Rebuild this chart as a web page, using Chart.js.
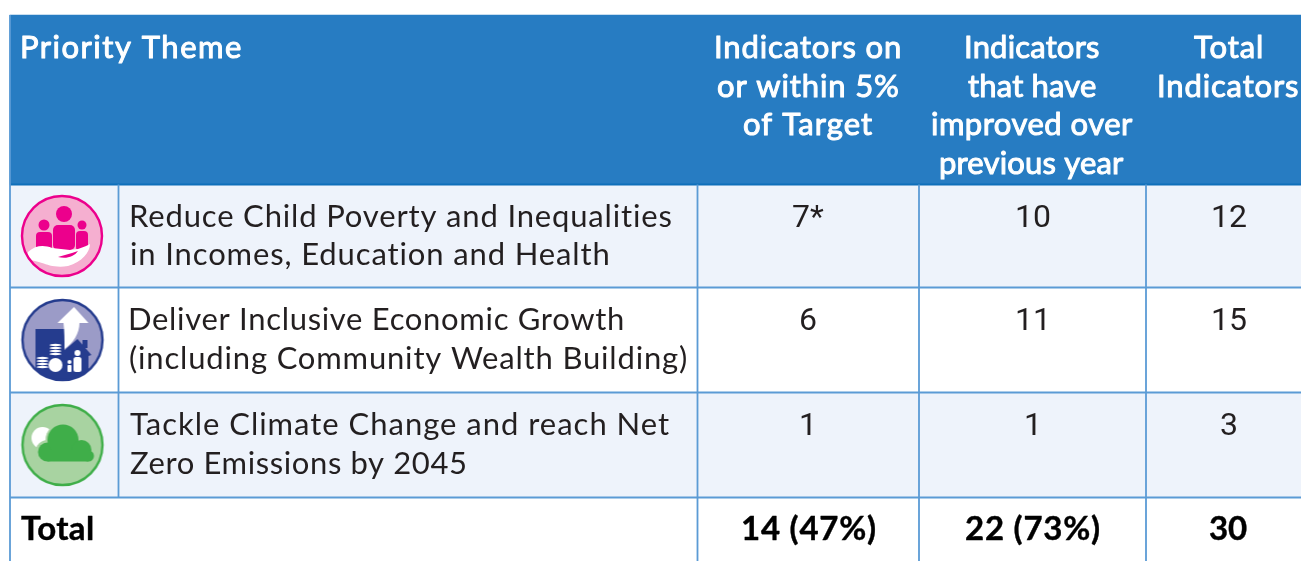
<!DOCTYPE html>
<html>
<head>
<meta charset="utf-8">
<title>Priority Theme indicators</title>
<style>
  html, body { margin: 0; padding: 0; background: #fff; overflow: hidden; }
  canvas { display: block; }
</style>
<script src="https://cdn.jsdelivr.net/npm/chart.js@4/dist/chart.umd.min.js"></script>
</head>
<body>
<canvas id="table_chart" width="1301" height="561"></canvas>
<script>
// table content
var themes = [
  ['Reduce Child Poverty and Inequalities', 'in Incomes, Education and Health'],
  ['Deliver Inclusive Economic Growth', '(including Community Wealth Building)'],
  ['Tackle Climate Change and reach Net', 'Zero Emissions by 2045']
];
var headerFirst = 'Priority Theme';
var headers = [
  ['Indicators on', 'or within 5%', 'of Target'],
  ['Indicators', 'that have', 'improved over', 'previous year'],
  ['Total', 'Indicators']
];
var onTarget = ['7*', '6', '1'];
var improved = ['10', '11', '1'];
var totalIndicators = ['12', '15', '3'];
var totalLabel = 'Total';
var totalRow = ['14 (47%)', '22 (73%)', '30'];

// table layout, in the units of the two axes
var columnEdges = [10, 118.5, 697.5, 919, 1146];
var rowEdges = [15, 184.5, 287.5, 392.5, 497.5, 561];
var rowFills = ['#277cc2', '#eef3fb', '#ffffff', '#eef3fb', '#ffffff'];
var columnCentres = [808, 1033, 1229];
var rowBaselines = [227, 330, 435];
var rowSecondBaselines = [265, 369, 474];
var headerBaselines = [58, 97, 135, 174];
var totalBaseline = 540;
var iconCentres = [{x: 62, y: 236}, {x: 62.5, y: 340}, {x: 62.5, y: 445}];

// left and right ends of each line of text, the font is not the original one
var headerFirstSpan = [22, 241];
var headerSpans = [
  [[716, 900], [718, 898], [744, 872]],
  [[966, 1099], [968, 1096], [932, 1133], [941, 1124]],
  [[1194, 1262], [1159, 1298]]
];
var themeSpans = [
  [[131, 672], [131, 609]],
  [[130, 623], [130, 686]],
  [[130, 669], [130, 465]]
];
var totalLabelSpan = [21, 93];
var totalSpans = [[743, 875], [966, 1099], [1210, 1247]];

var lineBlue = '#5b9bd5';
var textDark = '#231f20';
var bodyFont = 'Lato';

function disc(c, x, y, r) {
  c.beginPath();
  c.arc(x, y, r, 0, Math.PI * 2);
  c.fill();
}

function roundBox(c, x, y, w, h, r) {
  c.beginPath();
  c.roundRect(x, y, w, h, r);
  c.fill();
}

function iconBase(fill, ring) {
  var cv = document.createElement('canvas');
  cv.width = 88;
  cv.height = 88;
  var c = cv.getContext('2d');
  c.translate(44, 44);
  c.fillStyle = fill;
  disc(c, 0, 0, 40);
  return {cv: cv, c: c, ring: ring};
}

function finishIcon(ic) {
  ic.c.restore();
  ic.c.strokeStyle = ic.ring;
  ic.c.lineWidth = 2.4;
  ic.c.beginPath();
  ic.c.arc(0, 0, 40, 0, Math.PI * 2);
  ic.c.stroke();
  return ic.cv;
}

function clipCircle(c) {
  c.save();
  c.beginPath();
  c.arc(0, 0, 40, 0, Math.PI * 2);
  c.clip();
}

function pinkIcon() {
  var ic = iconBase('#f5afd0', '#ec008c'), c = ic.c;
  clipCircle(c);
  c.fillStyle = '#ec008c';
  disc(c, 2, -22, 8);
  roundBox(c, -9, -11, 22, 25, 5);
  disc(c, -18, -11, 5.5);
  roundBox(c, -26, -4, 16, 18, 4);
  disc(c, 20, -11, 4.5);
  roundBox(c, 14, -5, 12, 20, 4);
  c.fillStyle = '#ffffff';
  c.beginPath();
  c.moveTo(-34, 16);
  c.bezierCurveTo(-26, 9, -18, 9, -10, 12);
  c.lineTo(8, 14);
  c.lineTo(16, 13);
  c.bezierCurveTo(22, 11, 26, 9, 28, 8);
  c.bezierCurveTo(28, 16, 20, 26, 6, 30);
  c.bezierCurveTo(-6, 32, -14, 29, -20, 27);
  c.bezierCurveTo(-26, 25, -30, 24, -36, 24);
  c.closePath();
  c.fill();
  c.fillStyle = '#ec008c';
  c.beginPath();
  c.moveTo(-4, 21);
  c.lineTo(10, 17);
  c.lineTo(16, 15);
  c.bezierCurveTo(12, 21, 4, 23, -4, 21);
  c.fill();
  return finishIcon(ic);
}

function blueIcon() {
  var ic = iconBase('#9b9bc7', '#253c8e'), c = ic.c;
  clipCircle(c);
  c.fillStyle = '#253c8e';
  c.fillRect(-27, -11, 29, 60);
  c.beginPath();
  c.moveTo(15, -1);
  c.lineTo(29, 15);
  c.lineTo(26, 16);
  c.lineTo(26, 45);
  c.lineTo(0, 45);
  c.lineTo(0, 12);
  c.closePath();
  c.fill();
  c.fillRect(20, 0, 5, 8);
  c.fillRect(-40, 30, 80, 14);
  c.fillStyle = '#ffffff';
  c.beginPath();
  c.moveTo(11.5, -33);
  c.lineTo(26, -17);
  c.lineTo(17, -17);
  c.bezierCurveTo(17, -7, 11, 3, 2, 9);
  c.bezierCurveTo(2, 0, 2, -9, 1, -17);
  c.lineTo(-5, -17);
  c.closePath();
  c.fill();
  // coin stacks
  [5, 8, 11, 14].forEach(function (y) {
    c.beginPath();
    c.ellipse(-7, y, 6, 1.2, 0, 0, Math.PI * 2);
    c.fill();
  });
  [18, 21, 24, 27].forEach(function (y) {
    c.beginPath();
    c.ellipse(-20, y, 6, 1.2, 0, 0, Math.PI * 2);
    c.fill();
  });
  disc(c, -7, 25, 7);
  // two people
  disc(c, 15, 13, 3);
  roundBox(c, 11, 17, 8, 15, 2.5);
  disc(c, 7, 22, 2);
  roundBox(c, 5, 25, 4, 7, 1);
  return finishIcon(ic);
}

function greenIcon() {
  var ic = iconBase('#a8d3a1', '#3fae49'), c = ic.c;
  clipCircle(c);
  c.fillStyle = '#ffffff';
  disc(c, -20, -7, 11);
  c.fillStyle = '#a8d3a1';
  disc(c, 0.5, -5, 17.5);
  disc(c, -15, 7, 12);
  c.fillStyle = '#3fae49';
  disc(c, -15, 7, 9.5);
  disc(c, 0.5, -5, 15.5);
  disc(c, 19, 5, 10);
  disc(c, 26, 11, 5.5);
  c.fillRect(-15, 5, 41, 11.5);
  return finishIcon(ic);
}

// writes str so that its ink runs from span[0] to span[1], by letter spacing
function drawSpan(chart, str, span, baseline, font, color, edge) {
  var c = chart.ctx;
  var left = chart.scales.x.getPixelForValue(span[0]);
  var right = chart.scales.x.getPixelForValue(span[1]);
  var y = chart.scales.y.getPixelForValue(baseline);
  c.font = font;
  c.textAlign = 'left';
  c.textBaseline = 'alphabetic';
  c.letterSpacing = '0px';
  var m = c.measureText(str);
  var ink = m.actualBoundingBoxLeft + m.actualBoundingBoxRight;
  c.letterSpacing = ((right - left - ink) / (str.length - 1)) + 'px';
  c.fillStyle = color;
  c.fillText(str, left + m.actualBoundingBoxLeft, y);
  if (edge) {
    c.strokeStyle = color;
    c.lineWidth = edge;
    c.lineJoin = 'round';
    c.strokeText(str, left + m.actualBoundingBoxLeft, y);
  }
}

function drawCentred(chart, str, centre, baseline, font, color) {
  var c = chart.ctx;
  c.font = font;
  c.fillStyle = color;
  c.textAlign = 'center';
  c.textBaseline = 'alphabetic';
  c.letterSpacing = '0px';
  c.fillText(str, chart.scales.x.getPixelForValue(centre), chart.scales.y.getPixelForValue(baseline));
}

// writes the cell texts at positions taken from the chart's own scales
var cellTextPlugin = {
  id: 'cellText',
  afterDatasetsDraw: function (chart) {
    var cellFont = '31px ' + bodyFont;
    var boldFont = 'bold 33px ' + bodyFont;
    var numberFont = '400 32px Roboto';
    chart.ctx.save();

    drawSpan(chart, headerFirst, headerFirstSpan, headerBaselines[0], cellFont, '#ffffff', 1);
    headers.forEach(function (lines, col) {
      lines.forEach(function (line, i) {
        drawSpan(chart, line, headerSpans[col][i], headerBaselines[i], cellFont, '#ffffff', 1);
      });
    });

    themes.forEach(function (lines, row) {
      drawSpan(chart, lines[0], themeSpans[row][0], rowBaselines[row], cellFont, textDark);
      drawSpan(chart, lines[1], themeSpans[row][1], rowSecondBaselines[row], cellFont, textDark);
      [onTarget, improved, totalIndicators].forEach(function (column, col) {
        drawCentred(chart, column[row], columnCentres[col], rowBaselines[row], numberFont, textDark);
      });
    });

    drawSpan(chart, totalLabel, totalLabelSpan, totalBaseline, boldFont, '#000000', 0.4);
    totalRow.forEach(function (cell, col) {
      drawSpan(chart, cell, totalSpans[col], totalBaseline, boldFont, '#000000', 0.4);
    });
    chart.ctx.restore();
  }
};

function gridLine(points, color, width) {
  return {
    type: 'scatter',
    data: points,
    showLine: true,
    borderColor: color,
    borderWidth: width,
    pointRadius: 0,
    order: 1
  };
}

var datasets = [];

// row bands are floating bars, one per row
rowFills.forEach(function (fill, i) {
  datasets.push({
    type: 'bar',
    indexAxis: 'y',
    grouped: false,
    data: [{x: [columnEdges[0], 1301], y: (rowEdges[i] + rowEdges[i + 1]) / 2}],
    backgroundColor: fill,
    barThickness: rowEdges[i + 1] - rowEdges[i],
    order: 3
  });
});

// grid lines
columnEdges.forEach(function (edge, i) {
  var bottom = i === 1 ? rowEdges[4] : rowEdges[5];
  datasets.push(gridLine([{x: edge, y: i === 0 ? rowEdges[0] : rowEdges[1]}, {x: edge, y: bottom}], lineBlue, 1.8));
});
rowEdges.slice(2, 5).forEach(function (edge) {
  datasets.push(gridLine([{x: columnEdges[0], y: edge}, {x: 1301, y: edge}], lineBlue, 1.8));
});
datasets.push(gridLine([{x: columnEdges[0], y: rowEdges[1]}, {x: 1301, y: rowEdges[1]}], '#0f6fb9', 2.2));

// theme icons
datasets.push({
  type: 'scatter',
  data: iconCentres,
  pointStyle: [pinkIcon(), blueIcon(), greenIcon()],
  order: 0
});

new Chart(document.getElementById('table_chart'), {
  type: 'scatter',
  data: {datasets: datasets},
  options: {
    responsive: false,
    animation: false,
    layout: {padding: 0, autoPadding: false},
    plugins: {legend: {display: false}, tooltip: {enabled: false}},
    scales: {
      x: {type: 'linear', display: false, min: 0, max: 1301, offset: false},
      y: {type: 'linear', display: false, min: 0, max: 561, reverse: true, offset: false}
    }
  },
  plugins: [cellTextPlugin]
});
</script>
</body>
</html>
